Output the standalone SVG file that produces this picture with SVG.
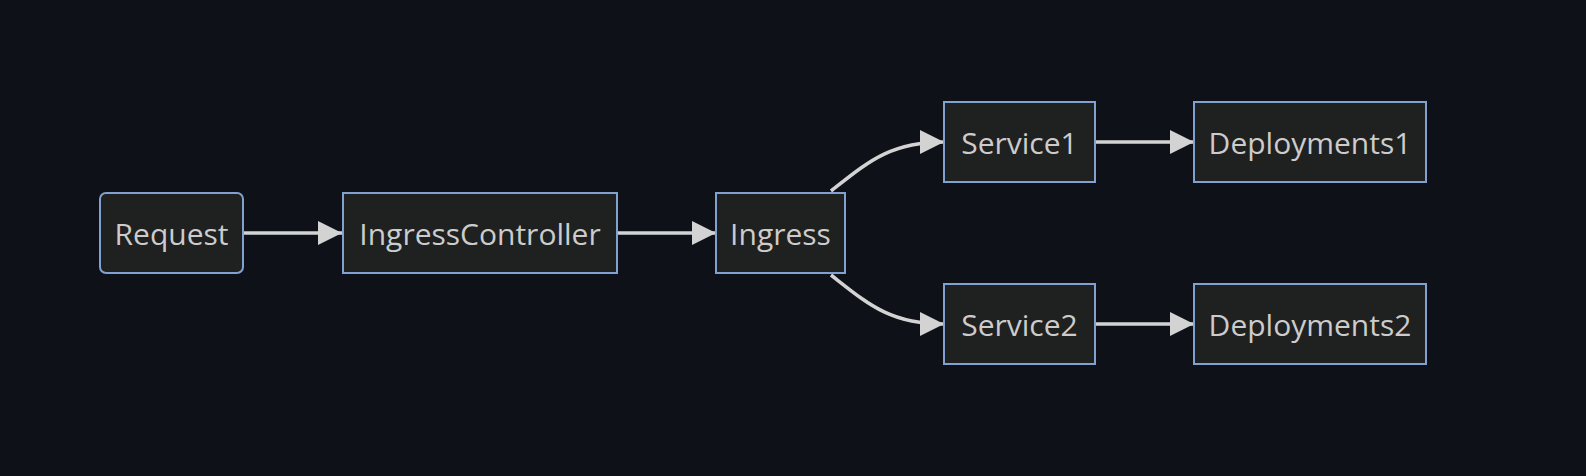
<svg xmlns="http://www.w3.org/2000/svg" width="1586" height="476" viewBox="0 0 1586 476">
<defs>
<style>
.node rect{fill:#1f2020;stroke:#81a2d0;stroke-width:2}
.node text{font-family:"Open Sans","DejaVu Sans",sans-serif;font-size:30px;fill:#cccccc;text-anchor:middle;dominant-baseline:central}
.edge{fill:none;stroke:#d3d3d3;stroke-width:3.5}
</style>
<marker id="arrow" markerUnits="userSpaceOnUse" viewBox="0 0 24 24" refX="24" refY="12" markerWidth="24" markerHeight="24" orient="auto">
<path d="M0,0 L24,12 L0,24 Z" fill="#d3d3d3"/>
</marker>
</defs>
<rect width="1586" height="476" fill="#0e1117"/>
<g id="connectors">
<path class="edge" d="M243,233 L342,233" marker-end="url(#arrow)"/>
<path class="edge" d="M617,233 L716,233" marker-end="url(#arrow)"/>
<path class="edge" d="M831,191 C868,162 890,142 944,142" marker-end="url(#arrow)"/>
<path class="edge" d="M831,275 C868,304 890,324 944,324" marker-end="url(#arrow)"/>
<path class="edge" d="M1095,142 L1194,142" marker-end="url(#arrow)"/>
<path class="edge" d="M1095,324 L1194,324" marker-end="url(#arrow)"/>
</g>
<g id="Request" class="node"><rect x="100" y="193" width="143" height="80" rx="6"/><text x="171.5" y="233">Request</text></g>
<g id="IngressController" class="node"><rect x="343" y="193" width="274" height="80"/><text x="480" y="233">IngressController</text></g>
<g id="Ingress" class="node"><rect x="716" y="193" width="129" height="80"/><text x="780.5" y="233">Ingress</text></g>
<g id="Service1" class="node"><rect x="944" y="102" width="151" height="80"/><text x="1019.5" y="142">Service1</text></g>
<g id="Service2" class="node"><rect x="944" y="284" width="151" height="80"/><text x="1019.5" y="324">Service2</text></g>
<g id="Deployments1" class="node"><rect x="1194" y="102" width="232" height="80"/><text x="1310" y="142">Deployments1</text></g>
<g id="Deployments2" class="node"><rect x="1194" y="284" width="232" height="80"/><text x="1310" y="324">Deployments2</text></g>
</svg>
